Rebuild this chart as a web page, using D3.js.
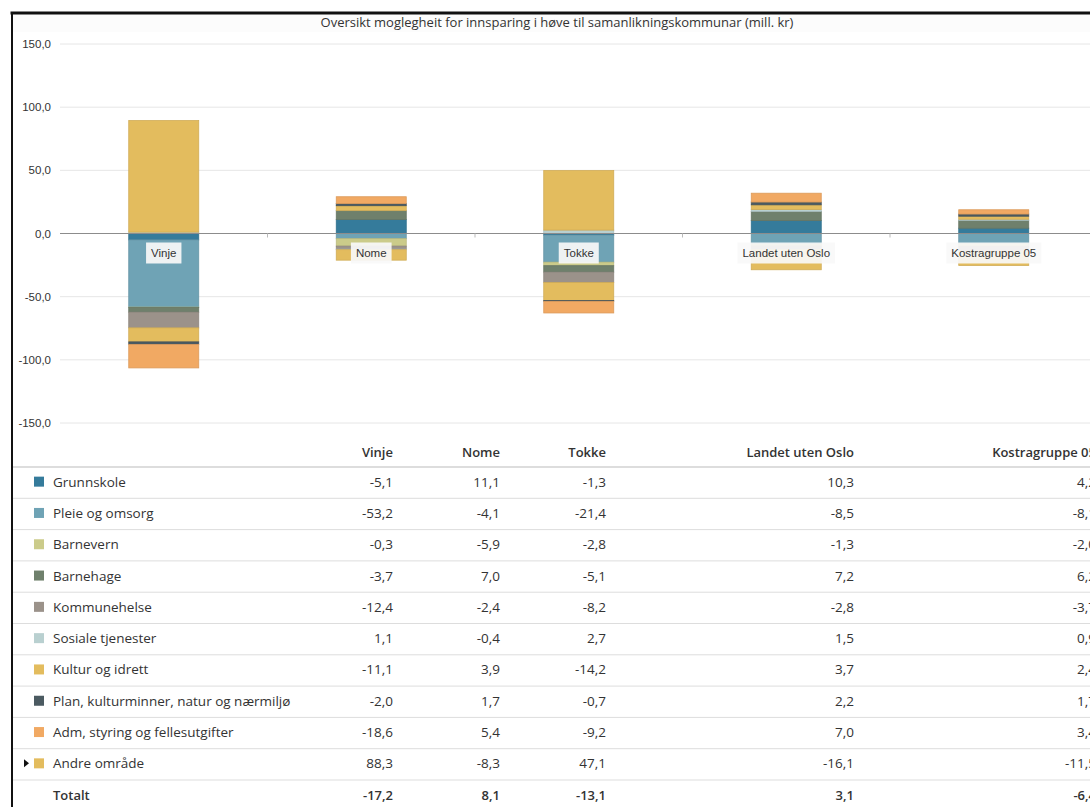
<!DOCTYPE html>
<html>
<head>
<meta charset="utf-8">
<script src="https://cdn.jsdelivr.net/npm/d3@7"></script>
<style>
  body { margin: 0; background: #fff; overflow: hidden; }
  svg { display: block; }
</style>
</head>
<body>
<svg width="1090" height="807"></svg>
<script>
// Data
const categories = ["Vinje", "Nome", "Tokke", "Landet uten Oslo", "Kostragruppe 05"];
const seriesNames = ["Grunnskole", "Pleie og omsorg", "Barnevern", "Barnehage", "Kommunehelse",
  "Sosiale tjenester", "Kultur og idrett", "Plan, kulturminner, natur og nærmiljø",
  "Adm, styring og fellesutgifter", "Andre område"];
const seriesColors = ["#357b9b", "#6fa3b5", "#cbcb8a", "#6f806c", "#9b928a",
  "#b9d0d0", "#e3bc5e", "#4b5a61", "#f1a963", "#e3bc5e"];
const grunnskole   = [-5.1, 11.1, -1.3, 10.3, 4.2];
const pleie        = [-53.2, -4.1, -21.4, -8.5, -8.1];
const barnevern    = [-0.3, -5.9, -2.8, -1.3, -2.0];
const barnehage    = [-3.7, 7.0, -5.1, 7.2, 6.2];
const kommunehelse = [-12.4, -2.4, -8.2, -2.8, -3.7];
const sosiale      = [1.1, -0.4, 2.7, 1.5, 0.9];
const kultur       = [-11.1, 3.9, -14.2, 3.7, 2.4];
const plan         = [-2.0, 1.7, -0.7, 2.2, 1.7];
const adm          = [-18.6, 5.4, -9.2, 7.0, 3.4];
const andre        = [88.3, -8.3, 47.1, -16.1, -11.5];
const totalt       = [-17.2, 8.1, -13.1, 3.1, -6.4];
const seriesValues = [grunnskole, pleie, barnevern, barnehage, kommunehelse,
  sosiale, kultur, plan, adm, andre];
const yTicks = [-150, -100, -50, 0, 50, 100, 150];

const svg = d3.select("svg");
const fmt = d3.formatLocale({decimal: ",", thousands: " ", grouping: [3], currency: ["", ""], minus: "-"}).format(".1f");

// Table built from the arrays
const rows = categories.map((c, i) => {
  const r = {cat: c};
  seriesNames.forEach((s, j) => r[s] = seriesValues[j][i]);
  return r;
});

// Scales
const x = d3.scaleBand().domain(categories).range([60, 1097.5]);
const y = d3.scaleLinear().domain([-150, 150]).range([423, 44]);
const barW = 70;

// Title band
svg.append("rect").attr("x", 12).attr("y", 13).attr("width", 1078).attr("height", 19).attr("fill", "#fcfcfc");
svg.append("text")
    .attr("x", 557).attr("y", 27)
    .attr("text-anchor", "middle")
    .style("font", "13px 'Open Sans'").attr("fill", "#333")
    .text("Oversikt moglegheit for innsparing i høve til samanlikningskommunar (mill. kr)");

// Grid + y labels
svg.append("g").selectAll("line")
  .data(yTicks.filter(d => d !== 0))
  .enter().append("line")
    .attr("x1", 60).attr("x2", 1090)
    .attr("y1", d => y(d)).attr("y2", d => y(d))
    .attr("stroke", "#e6e6e6");

svg.append("g").selectAll("text")
  .data(yTicks)
  .enter().append("text")
    .attr("x", 51).attr("y", d => y(d) + 4)
    .attr("text-anchor", "end")
    .style("font", "11.5px 'Liberation Sans', Arial").attr("fill", "#333")
    .text(d => fmt(d));

// Stacked bars
const stack = d3.stack()
    .keys(seriesNames)
    .offset(d3.stackOffsetDiverging);
const layers = stack(rows);

svg.append("g").selectAll("g")
  .data(layers)
  .enter().append("g")
    .attr("fill", (d, i) => seriesColors[i])
    .attr("stroke", (d, i) => d3.color(seriesColors[i]).darker(0.25))
    .attr("stroke-width", 0.8)
  .selectAll("rect")
  .data(d => d)
  .enter().append("rect")
    .attr("x", d => x(d.data.cat) + x.bandwidth() / 2 - barW / 2)
    .attr("width", barW)
    .attr("y", d => y(Math.max(d[0], d[1])))
    .attr("height", d => Math.abs(y(d[0]) - y(d[1])));

// Zero line with ticks
svg.append("line")
    .attr("x1", 60).attr("x2", 1090)
    .attr("y1", y(0)).attr("y2", y(0))
    .attr("stroke", "#8c8c8c");
svg.append("g").selectAll("line")
  .data(categories.slice(1))
  .enter().append("line")
    .attr("x1", d => x(d)).attr("x2", d => x(d))
    .attr("y1", y(0)).attr("y2", y(0) + 4)
    .attr("stroke", "#bbb");

// Category labels
const lab = svg.append("g").selectAll("g")
  .data(categories)
  .enter().append("g")
    .attr("transform", d => `translate(${x(d) + x.bandwidth() / 2},${y(0) + 19})`);
lab.append("text")
    .attr("text-anchor", "middle").attr("y", 4)
    .style("font", "11.5px 'Liberation Sans', Arial").attr("fill", "#333")
    .text(d => d);
lab.each(function() {
  const g = d3.select(this);
  const bb = g.select("text").node().getBBox();
  g.insert("rect", "text")
    .attr("x", bb.x - 5).attr("y", -10)
    .attr("width", bb.width + 10).attr("height", 21)
    .attr("fill", "#f8f8f8").attr("fill-opacity", 0.92);
});

// Data table
const colRight = [393, 500, 606, 854, 1096];
const tfont = "13.5px 'Open Sans'";
const rowY0 = 467, rowH = 31.3;

svg.append("g").selectAll("text")
  .data(categories)
  .enter().append("text")
    .attr("x", (d, i) => colRight[i]).attr("y", 457)
    .attr("text-anchor", "end")
    .style("font", "13px 'Open Sans'").style("font-weight", 600).attr("fill", "#333")
    .text(d => d);
svg.append("line")
    .attr("x1", 12).attr("x2", 1090).attr("y1", rowY0).attr("y2", rowY0)
    .attr("stroke", "#ddd").attr("stroke-width", 2);

const tr = svg.append("g").selectAll("g")
  .data(seriesNames)
  .enter().append("g")
    .attr("transform", (d, i) => `translate(0,${rowY0 + i * rowH})`);
tr.append("line")
    .attr("x1", 12).attr("x2", 1090).attr("y1", rowH).attr("y2", rowH)
    .attr("stroke", "#ddd");
tr.append("rect")
    .attr("x", 34).attr("y", rowH / 2 - 6).attr("width", 10).attr("height", 10)
    .attr("fill", (d, i) => seriesColors[i]);
tr.append("text")
    .attr("x", 53).attr("y", rowH / 2 + 4)
    .style("font", tfont).attr("fill", "#333")
    .text(d => d);
tr.selectAll("text.v")
  .data((d, i) => seriesValues[i])
  .enter().append("text")
    .attr("class", "v")
    .attr("x", (d, i) => colRight[i]).attr("y", rowH / 2 + 4)
    .attr("text-anchor", "end")
    .style("font", tfont).attr("fill", "#333")
    .text(d => fmt(d));
// expand marker on last row
tr.filter((d, i) => i === seriesNames.length - 1)
  .append("path")
    .attr("d", `M24,${rowH / 2 - 5}L29,${rowH / 2 - 1}L24,${rowH / 2 + 3}Z`)
    .attr("fill", "#111");

// Total row
const ty = rowY0 + seriesNames.length * rowH;
svg.append("text")
    .attr("x", 53).attr("y", ty + rowH / 2 + 4)
    .style("font", "13px 'Open Sans'").style("font-weight", 600).attr("fill", "#333")
    .text("Totalt");
svg.append("g").selectAll("text")
  .data(totalt)
  .enter().append("text")
    .attr("x", (d, i) => colRight[i]).attr("y", ty + rowH / 2 + 4)
    .attr("text-anchor", "end")
    .style("font", "13px 'Open Sans'").style("font-weight", 600).attr("fill", "#333")
    .text(d => fmt(d));

// Outer frame (left and top edges)
svg.append("line").attr("x1", 10.5).attr("x2", 1090).attr("y1", 13).attr("y2", 13)
    .attr("stroke", "#111").attr("stroke-width", 3);
svg.append("line").attr("x1", 12).attr("x2", 12).attr("y1", 12).attr("y2", 807)
    .attr("stroke", "#111").attr("stroke-width", 2);
</script>
</body>
</html>
